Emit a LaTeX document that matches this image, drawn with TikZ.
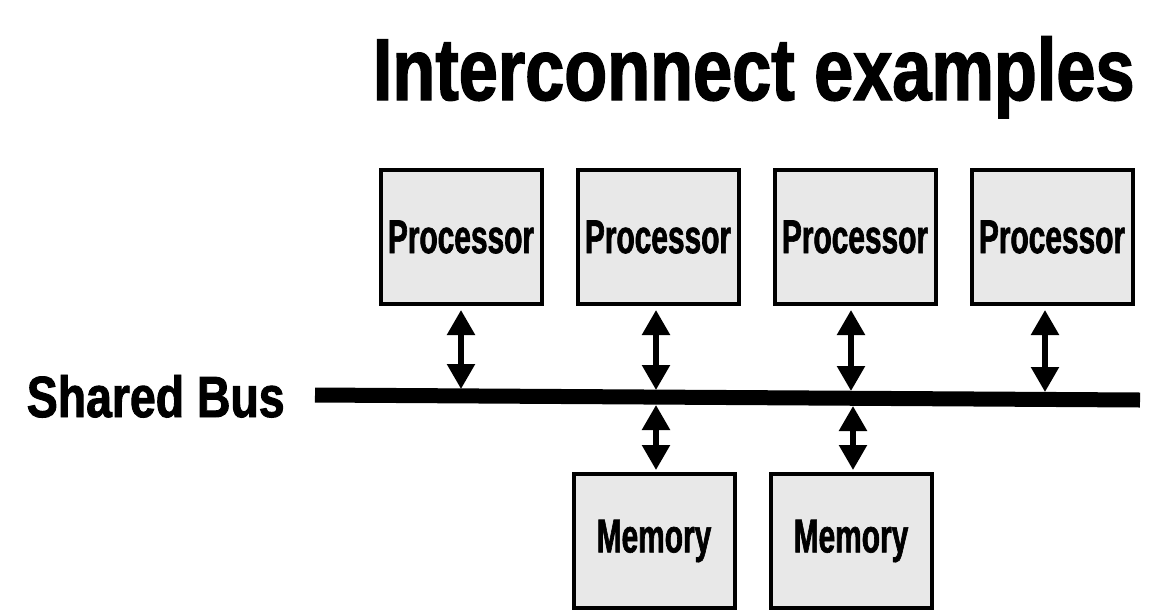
\documentclass[tikz,border=0pt]{standalone}
\usepackage{fontspec}
\newfontfamily\headfont{Liberation Sans}[FakeStretch=0.8, FakeBold=1.6]
\newfontfamily\boxfont{Liberation Sans}[FakeStretch=0.63, FakeBold=1.3]
\usetikzlibrary{arrows.meta,
                positioning
                }
\definecolor{unitgray}{RGB}{232,232,232}

\begin{document}
\begin{tikzpicture}[x=0.2mm, y=-0.2mm,
          node distance = 6.4mm and 6.4mm,
     unit/.style = {draw, line width=0.8mm, fill=unitgray,
                    minimum width=32.2mm, minimum height=26.8mm, inner sep=0pt,
                    font=\boxfont\bfseries\fontsize{27}{27}\selectfont},
     link/.style = {line width=1.1mm,
                    {Triangle[width=5.4mm,length=5mm]}-{Triangle[width=5.4mm,length=5mm]}},
      bus/.style = {line width=3mm}
      ]
    \useasboundingbox (0,0) rectangle (1153,611);
    % title
    \node (title) [anchor=base east, inner sep=0pt,
                   font=\headfont\bfseries\fontsize{50}{50}\selectfont]
          at (1135,100) {Interconnect examples};
    % processors
    \node (p1) [unit] at (461,237) {Processor};
    \node (p2) [unit, right=of p1] {Processor};
    \node (p3) [unit, right=of p2] {Processor};
    \node (p4) [unit, right=of p3] {Processor};
    % memories
    \node (m1) [unit] at (654,541) {Memory};
    \node (m2) [unit, right=of m1] {Memory};
    % the bus
    \coordinate (busL) at (315,395);
    \coordinate (busR) at (1140,400);
    \draw[bus] (busL) -- (busR);
    \node (buslbl) [anchor=base east, inner sep=0pt,
                    font=\headfont\bfseries\fontsize{33}{33}\selectfont]
          at (285,417) {Shared Bus};
    % taps on the bus
    \coordinate (t1) at (461,389);
    \coordinate (t2) at (656,390);
    \coordinate (t3) at (851,391);
    \coordinate (t4) at (1045,392);
    \coordinate (u1) at (656,405);
    \coordinate (u2) at (853,406);
    \foreach \i in {1,...,4}
        \draw[link] ([yshift=-0.8mm]t\i |- p\i.south) -- (t\i);
    \foreach \i in {1,2}
        \draw[link] (u\i) -- ([yshift=0.4mm]u\i |- m\i.north);
\end{tikzpicture}
\end{document}
